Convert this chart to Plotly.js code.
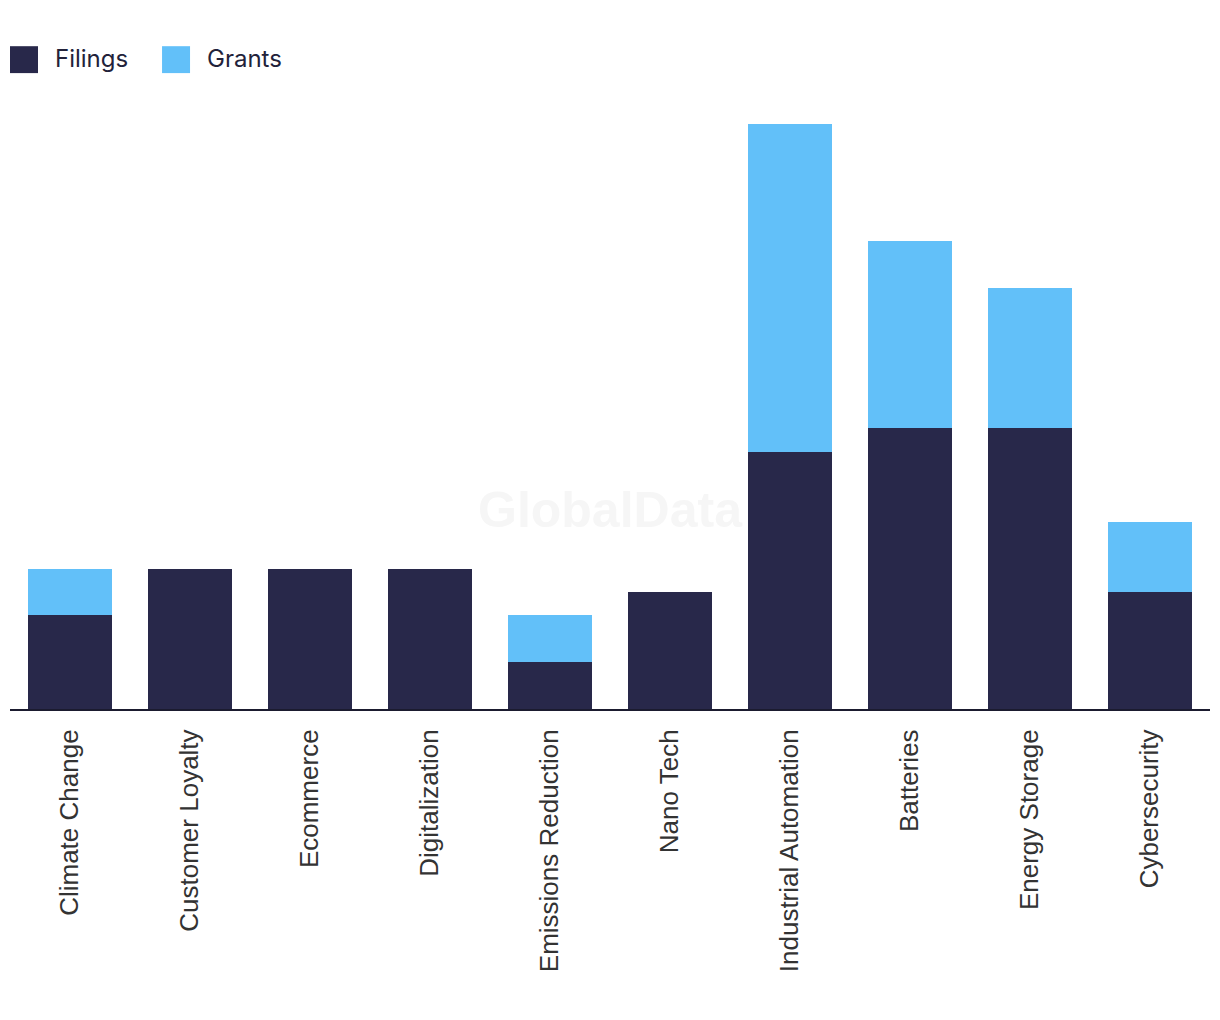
<!DOCTYPE html>
<html>
<head>
<meta charset="utf-8">
<script src="https://cdn.plot.ly/plotly-3.0.1.min.js"></script>
<style>
  body { margin: 0; background: #fff; }
  #chart { width: 1220px; height: 1020px; }
</style>
</head>
<body>
<div id="chart"></div>
<script>
var categories = ["Climate Change", "Customer Loyalty", "Ecommerce", "Digitalization",
    "Emissions Reduction", "Nano Tech", "Industrial Automation", "Batteries",
    "Energy Storage", "Cybersecurity"];
var filings = [4, 6, 6, 6, 2, 5, 11, 12, 12, 5];
var grants = [2, 0, 0, 0, 2, 0, 14, 8, 6, 3];
var seriesNames = ["Filings", "Grants"];
var seriesColors = ["#28284a", "#62c0f9"];

var traces = [
    { x: categories, y: filings, name: seriesNames[0], type: "bar",
      marker: { color: seriesColors[0] }, hoverinfo: "x+y+name" },
    { x: categories, y: grants, name: seriesNames[1], type: "bar",
      marker: { color: seriesColors[1] }, hoverinfo: "x+y+name" }
];

// hand-made legend, bigger squares than plotly's own
var legendShapes = [];
var legendNotes = [];
var legX = [0, 0.1267];
for (var i = 0; i < seriesNames.length; i++) {
    legendShapes.push({
        type: "rect", xref: "paper", yref: "paper",
        x0: legX[i], x1: legX[i] + 28 / 1200, y0: 1.087, y1: 1.133,
        fillcolor: seriesColors[i], line: { width: 0 }
    });
    legendNotes.push({
        xref: "paper", yref: "paper", x: legX[i] + 43 / 1200, y: 1.112,
        xanchor: "left", yanchor: "middle", showarrow: false,
        text: seriesNames[i],
        font: { family: "Inter, 'Noto Sans', sans-serif", size: 24, color: "#22223a" }
    });
}
legendNotes.push({
    xref: "paper", yref: "paper", x: 0.5, y: 0.34, showarrow: false,
    text: "<b>GlobalData</b>",
    font: { family: "Liberation Sans, Arial, sans-serif", size: 50, color: "#f6f6f6" }
});

var layout = {
    width: 1220,
    height: 1020,
    barmode: "stack",
    bargap: 0.3,
    showlegend: false,
    paper_bgcolor: "#ffffff",
    plot_bgcolor: "rgba(0,0,0,0)",
    margin: { l: 10, r: 10, t: 124, b: 311 },
    xaxis: {
        tickangle: -90,
        showline: true, linecolor: "#1b1b2f", linewidth: 2,
        ticks: "", showgrid: false, zeroline: false,
        ticklabelstandoff: 8,
        tickfont: { family: "Liberation Sans, Arial, sans-serif", size: 26, color: "#333333" }
    },
    yaxis: {
        range: [0, 25], visible: false, showgrid: false, zeroline: false
    },
    shapes: legendShapes,
    annotations: legendNotes
};

Plotly.newPlot("chart", traces, layout, { displayModeBar: false });
</script>
</body>
</html>
